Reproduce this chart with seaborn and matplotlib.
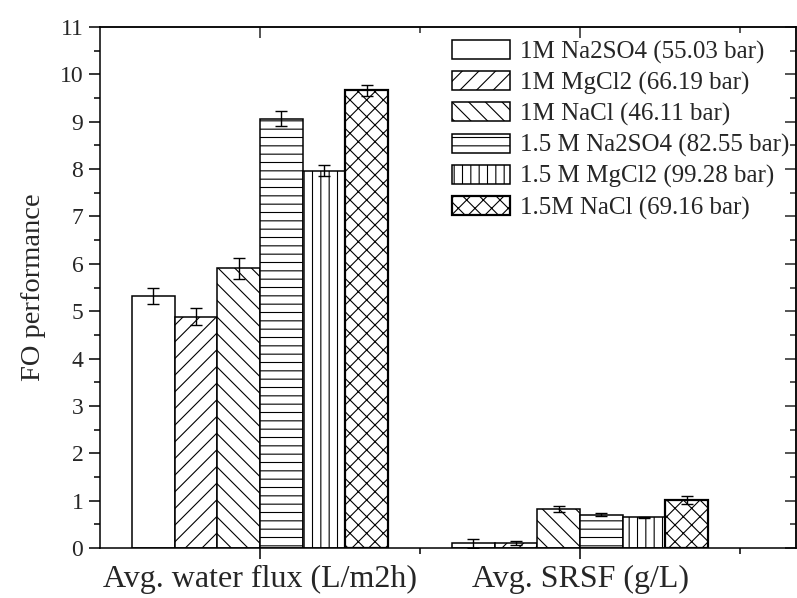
import numpy as np
import pandas as pd
import matplotlib
matplotlib.use("Agg")
import matplotlib.pyplot as plt
from matplotlib.ticker import MultipleLocator
import seaborn as sns

# Draw solutions (legend labels) and the two measured metrics
solutions = [
    "1M Na2SO4 (55.03 bar)",
    "1M MgCl2 (66.19 bar)",
    "1M NaCl (46.11 bar)",
    "1.5 M Na2SO4 (82.55 bar)",
    "1.5 M MgCl2 (99.28 bar)",
    "1.5M NaCl (69.16 bar)",
]
metrics = ["Avg. water flux (L/m2h)", "Avg. SRSF (g/L)"]

# Mean values and standard deviations per solution
water_flux = [5.33, 4.88, 5.91, 9.06, 7.97, 9.66]
water_flux_err = [0.17, 0.18, 0.22, 0.16, 0.11, 0.12]
srsf = [0.10, 0.10, 0.83, 0.70, 0.65, 1.01]
srsf_err = [0.09, 0.04, 0.06, 0.03, 0.01, 0.08]

hatches = ["", "//", "\\\\", "--", "||", "xx"]

df = pd.DataFrame({
    "metric": [metrics[0]] * 6 + [metrics[1]] * 6,
    "solution": solutions * 2,
    "value": water_flux + srsf,
    "err": water_flux_err + srsf_err,
})

sns.set_style("ticks")
plt.rcParams["font.family"] = ["Liberation Serif", "DejaVu Serif"]
plt.rcParams["hatch.linewidth"] = 0.8
plt.rcParams["axes.linewidth"] = 1.1

fig = plt.figure(figsize=(7.97, 5.98), dpi=100)
ax = fig.add_axes([100 / 797, 50 / 598, 696 / 797, 521 / 598])

sns.barplot(data=df, x="metric", y="value", hue="solution",
            order=metrics, hue_order=solutions,
            palette=["white"] * 6, edgecolor="black", linewidth=1.1,
            width=0.8, errorbar=None, legend=False, ax=ax)

for cont, hatch, sol in zip(ax.containers, hatches, solutions):
    sub = df[df["solution"] == sol].set_index("metric").loc[metrics]
    xs, ys = [], []
    for patch in cont.patches:
        patch.set_hatch(hatch)
        patch.set_edgecolor("black")
        if hatch == "xx":
            patch.set_linewidth(1.6)
        xs.append(patch.get_x() + patch.get_width() / 2)
        ys.append(patch.get_height())
    ax.errorbar(xs, ys, yerr=sub["err"].values, fmt="none", ecolor="black",
                elinewidth=1.0, capsize=4, capthick=1.0, zorder=5)

ax.set_xlim(-0.5, 1.675)
ax.set_ylim(0, 11)
ax.yaxis.set_major_locator(MultipleLocator(1))
ax.yaxis.set_minor_locator(MultipleLocator(0.5))
ax.set_xticks([0, 1])
ax.set_xticks([0.5, 1.5], minor=True)
ax.tick_params(axis="both", which="major", direction="out", length=8,
               width=1.1, color="black")
ax.tick_params(axis="both", which="minor", direction="out", length=4,
               width=1.1, color="black")
ax.tick_params(axis="y", labelsize=17, pad=4)
ax.tick_params(axis="x", labelsize=23, pad=4)
ax.set_xlabel("")
ax.set_ylabel("FO performance", fontsize=20.5, labelpad=10)

for side in ["top", "right", "left", "bottom"]:
    ax.spines[side].set_visible(True)
    ax.spines[side].set_color("black")

# Mirror ticks on top and right, pointing inward
top = ax.secondary_xaxis("top")
top.set_xticks([0, 1], labels=["", ""])
top.set_xticks([0.5, 1.5], minor=True)
top.tick_params(which="major", direction="in", length=8, width=1.1)
top.tick_params(which="minor", direction="in", length=4, width=1.1)

right = ax.secondary_yaxis("right")
right.yaxis.set_major_locator(MultipleLocator(1))
right.yaxis.set_minor_locator(MultipleLocator(0.5))
right.tick_params(which="major", direction="in", length=8, width=1.1, labelright=False)
right.tick_params(which="minor", direction="in", length=4, width=1.1)

ax.legend(ax.containers, solutions, loc="upper left",
          bbox_to_anchor=(347 / 696, 1 - 8 / 521), frameon=False,
          fontsize=18, handlelength=2.3, handleheight=0.8,
          labelspacing=0.3, handletextpad=0.4, borderpad=0.2,
          borderaxespad=0.0)

fig.savefig("out.png", dpi=100, facecolor="white")
